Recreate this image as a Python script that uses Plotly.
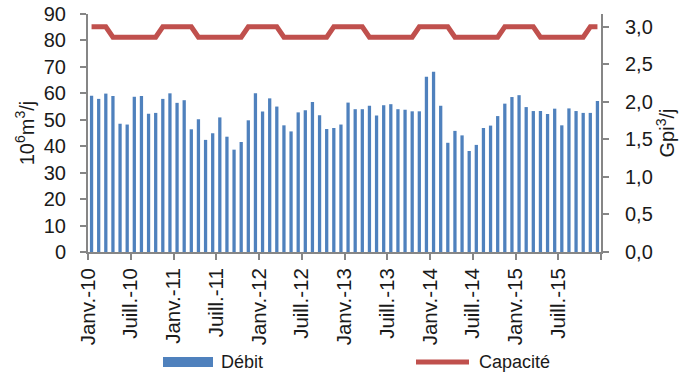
import plotly.graph_objects as go

months = [f"{m}-{y}" for y in range(2010, 2016) for m in range(1, 13)]
debit = [
    59.1, 57.9, 59.9, 59.0, 48.5, 48.2, 58.7, 59.0, 52.3, 52.6, 57.9, 60.0,
    56.4, 57.4, 46.4, 50.2, 42.4, 44.9, 50.9, 43.6, 38.7, 41.6, 49.8, 60.0,
    53.1, 58.1, 55.0, 47.9, 45.6, 52.8, 53.6, 56.7, 51.7, 46.5, 46.9, 48.2,
    56.5, 54.0, 54.0, 55.3, 51.6, 55.5, 55.9, 54.0, 53.8, 53.2, 53.2, 66.3,
    68.2, 55.3, 41.3, 45.8, 44.1, 38.2, 40.5, 46.9, 47.8, 51.4, 56.1, 58.6,
    59.3, 54.8, 53.3, 53.3, 52.2, 54.2, 47.9, 54.3, 53.3, 52.6, 52.6, 57.1,
]
capacite = [
    3.0, 3.0, 3.0, 2.86, 2.86, 2.86, 2.86, 2.86, 2.86, 2.86, 3.0, 3.0,
    3.0, 3.0, 3.0, 2.86, 2.86, 2.86, 2.86, 2.86, 2.86, 2.86, 3.0, 3.0,
    3.0, 3.0, 3.0, 2.86, 2.86, 2.86, 2.86, 2.86, 2.86, 2.86, 3.0, 3.0,
    3.0, 3.0, 3.0, 2.86, 2.86, 2.86, 2.86, 2.86, 2.86, 2.86, 3.0, 3.0,
    3.0, 3.0, 3.0, 2.86, 2.86, 2.86, 2.86, 2.86, 2.86, 2.86, 3.0, 3.0,
    3.0, 3.0, 3.0, 2.86, 2.86, 2.86, 2.86, 2.86, 2.86, 2.86, 3.0, 3.0,
]
tick_labels = ["Janv.-10", "Juill.-10", "Janv.-11", "Juill.-11", "Janv.-12", "Juill.-12",
               "Janv.-13", "Juill.-13", "Janv.-14", "Juill.-14", "Janv.-15", "Juill.-15", ""]
left_ticks = list(range(0, 91, 10))
right_ticks = [0, 0.5, 1, 1.5, 2, 2.5, 3]
right_labels = ["0,0", "0,5", "1,0", "1,5", "2,0", "2,5", "3,0"]

x = [i + 0.5 for i in range(len(months))]
BLUE = "#4F81BD"
RED = "#C0504D"
AX = "#868686"
TXT = "#1a1a1a"
FONT = "Liberation Sans, Arial, sans-serif"

W, H = 685, 375
# plot area in pixels: x 88..601, y 14..252
L, R, T, B = 88, 601, 14, 252
def px(v):
    return (v - L) / (R - L)
def py(v):
    return (B - v) / (B - T)

fig = go.Figure()
fig.add_trace(go.Bar(x=x, y=debit, marker=dict(color=BLUE, line=dict(width=0)),
                     name="Débit", showlegend=False, yaxis="y", width=0.46,
                     customdata=months))
fig.add_trace(go.Scatter(x=x, y=capacite, mode="lines", name="Capacité",
                         line=dict(color=RED, width=5), showlegend=False, yaxis="y2"))

shapes = [
    dict(type="rect", xref="paper", yref="paper", x0=px(163), x1=px(213),
         y0=py(367), y1=py(357), fillcolor=BLUE, line=dict(width=0)),
    dict(type="line", xref="paper", yref="paper", x0=px(416), x1=px(469),
         y0=py(362), y1=py(362), line=dict(color=RED, width=5)),
]
annotations = [
    dict(text="Débit", xref="paper", yref="paper", x=px(219), y=py(362),
         xanchor="left", yanchor="middle", showarrow=False,
         font=dict(size=18, color=TXT, family=FONT)),
    dict(text="Capacité", xref="paper", yref="paper", x=px(477), y=py(362),
         xanchor="left", yanchor="middle", showarrow=False,
         font=dict(size=18, color=TXT, family=FONT)),
]

fig.update_layout(
    width=W, height=H,
    margin=dict(l=L, r=W - R, t=T, b=H - B, autoexpand=False),
    paper_bgcolor="white", plot_bgcolor="white",
    font=dict(family=FONT, size=20, color=TXT),
    showlegend=False,
    shapes=shapes, annotations=annotations,
    xaxis=dict(range=[0, 72], tickvals=list(range(0, 73, 6)), ticktext=tick_labels,
               tickangle=-90, showgrid=False, zeroline=False, showline=True,
               linecolor=AX, linewidth=2, ticks="outside", ticklen=6, tickcolor=AX,
               tickwidth=2, tickfont=dict(size=20.5), automargin=False),
    yaxis=dict(range=[0, 90], tickvals=left_ticks, showgrid=False, zeroline=False,
               showline=True, linecolor=AX, linewidth=2, ticks="outside", ticklen=6,
               tickcolor=AX, tickwidth=1.5, tickfont=dict(size=20), automargin=False,
               ticklabelstandoff=10, ticklabeloverflow="allow",
               title=dict(text="10<sup>6</sup>m<sup>3</sup>/j", font=dict(size=20), standoff=4)),
    yaxis2=dict(range=[0, 3.17], tickvals=right_ticks, ticktext=right_labels,
                overlaying="y", side="right", showgrid=False, zeroline=False, showline=True,
                linecolor=AX, linewidth=2, ticks="outside", ticklen=6, tickcolor=AX,
                tickwidth=1.5, tickfont=dict(size=20), automargin=False,
                ticklabelstandoff=12, ticklabeloverflow="allow",
                title=dict(text="Gpi<sup>3</sup>/j", font=dict(size=20), standoff=8)),
    bargap=0.5,
)

fig.write_html("out.html", config={"displayModeBar": False},
               post_script="document.body.style.margin='0';")
